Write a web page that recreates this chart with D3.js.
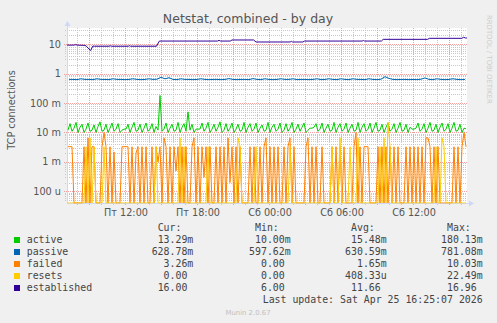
<!DOCTYPE html>
<html>
<head>
<meta charset="utf-8">
<script src="https://cdn.jsdelivr.net/npm/d3@7"></script>
<style>
html, body { margin: 0; padding: 0; background: #f0f0f0; }
svg { display: block; }
text { font-family: "DejaVu Sans", sans-serif; }
.mono { font-family: "DejaVu Sans Mono", monospace; white-space: pre; }
</style>
</head>
<body>
<div id="chart"></div>
<script>
// time range of the munin "day" graph: 400 samples of 300 s
const startTime = Date.UTC(2026, 3, 24, 7, 10);
const endTime = startTime + 120000 * 1000;
const dayNames = ["Вс", "Пн", "Вт", "Ср", "Чт", "Пт", "Сб"];

const yDomain = [4.07e-5, 34.9];
const yTickValues = [1e-4, 1e-3, 1e-2, 1e-1, 1, 10];
const yTickLabels = ["100 u", "1 m", "10 m", "100 m", "1", "10"];

// active, failed, resets: one value per 10 min, in milli-connections
const activeStepMin = 10;
const activeM = [
  12,20,11,14,22,10,15,19,10,13,  21,11,12,18,10,16,23,11,12,19,
  10,14,21,11,13,20,10,12,13,13,  19,10,15,22,11,12,19,10,14,21,
  11,13,20,10,16,12,180,11,13,21, 10,14,19,11,12,22,10,15,20,11,
  50,12,19,10,13,13,13,21,11,14,  22,10,13,19,11,15,23,10,12,20,
  11,14,21,10,13,19,11,12,22,10,  15,20,11,13,21,10,14,18,11,12,
  22,10,15,19,11,13,21,10,12,20,  11,14,22,10,13,19,11,15,21,10,
  12,14,14,15,20,11,13,21,10,14,  19,11,12,22,10,15,20,11,13,21,
  10,14,19,11,12,22,10,15,20,11,  13,21,10,14,22,11,12,19,10,15,
  21,11,13,20,10,14,22,11,12,19,  10,15,13,13,14,21,11,13,20,10,
  14,22,11,12,19,10,15,21,11,13,  20,10,14,22,11,12,19,10,14,13.3
];
const failedM = [
  3.3,3.3,3.3,0,0,0,0,0,3.3,0,     6.6,0,3.3,3.3,0,0,0,3.3,10,3.3,
  0,3.3,0,2.2,0,0,0,3.3,3.3,3.3,   3.3,0,3.3,0,2,3.3,0,3.3,0,3.3,
  0,0,3.3,0,3.3,1,3.3,0,6.6,3.3,   0,3.3,0,3.3,0.5,3.3,0,3.3,0,3.3,
  0,0,3.3,6.6,0,3.3,0,3.3,0.3,3.3, 0,3.3,0,0,3.3,0,3.3,0,3.3,0,
  6.6,0.2,3.3,0,3.3,0,3.3,0,0,0,   0,3.3,0,3.3,0,0,3.3,0,3.3,6.6,
  0,3.3,0,3.3,0,3.3,0,0,3.3,0,     3.3,6.6,0,3.3,0,0,0,0,0,3.3,
  6.6,0,3.3,0,3.3,0,0,3.3,0,0,     0,0,3.3,0,3.3,0,3.3,0,3.3,0,
  0,0,0,3.3,10,0,3.3,0,3.3,3.3,    3.3,0,0,0,0,3.3,0,3.3,0,3.3,
  0,3.3,0,3.3,0,3.3,0,0,0,3.3,     0,3.3,0,3.3,0,3.3,0,3.3,0,6.6,
  6.6,3.3,0,3.3,0,3.3,0,0,0,0,     0,0,0,3.3,0,3.3,0,3.3,10,3.26
];
const resetsM = [
  0,0,0,0,0,0,0,0,0,3.3,   0,6.6,0,3.3,0,0,0,0,3.3,0,
  0,0,0,0,0,0,0,0,0,0,     0,0,0,0,0,0,0,0,0,0,
  0,0,0,0,3.3,0,0,0,0,0,   0,0,0,0,0,0,6.6,0,3.3,0,
  0,0,0,0,0,0,0,0,0,0,     3.3,0,0,0,0,0,0,0,0,0,
  0,0,0,0,0,6.6,3.3,0,0,0, 0,0,0,0,3.3,0,0,0,0,0,
  0,0,0,0,0,0,0,0,0,0,     0,3.3,0,0,0,0,0,0,0,0,
  0,0,0,0,0,0,0,0,0,0,     0,0,3.3,0,0,0,6.6,0,0,0,
  0,3.3,0,0,0,6.6,0,0,0,0, 0,0,0,0,0,0,3.3,0,6.6,0,
  22.5,3.3,0,0,0,0,0,0,0,0, 0,0,0,0,0,0,0,0,0,0,
  0,0,0,0,3.3,0,0,6.6,3.3,0, 0,0,0,0,0,0,0,0,0,0
];

// passive: one value per 20 min
const passiveStepMin = 20;
const passive = [
  0.63,0.63,0.62,0.66,0.63,0.63,0.62,0.66,0.63,0.63,
  0.62,0.66,0.63,0.63,0.62,0.63,0.66,0.63,0.62,0.63,
  0.66,0.63,0.64,0.75,0.66,0.72,0.63,0.62,0.66,0.63,
  0.63,0.62,0.63,0.66,0.63,0.62,0.63,0.63,0.62,0.63,
  0.67,0.63,0.62,0.63,0.63,0.62,0.67,0.63,0.62,0.66,
  0.63,0.62,0.63,0.66,0.63,0.63,0.66,0.62,0.63,0.63,
  0.62,0.63,0.66,0.62,0.63,0.66,0.63,0.62,0.66,0.63,
  0.62,0.66,0.63,0.63,0.62,0.66,0.63,0.62,0.64,0.78,
  0.68,0.63,0.62,0.63,0.63,0.62,0.63,0.62,0.64,0.71,
  0.63,0.62,0.66,0.63,0.62,0.63,0.66,0.63,0.62,0.63
];

// established: hours after start, value
const estHours = [0,0.6,0.7,0.85,1.5,1.6,1.97,2.15,2.3, 3.5,3.6,3.7, 5.1,5.2,5.3, 7.45,7.7,
  12.55,12.67,12.8, 13.6,13.75, 15.55,15.75, 18.6,18.7,18.8, 19.65,19.8, 24.6,24.7,24.8,
  26.2,26.35, 30.05,30.2, 32.9,33.05,33.2,33.33];
const estValues = [9.2,9.2,9.6,9.2,9.0,8.5,6.0,8.5,8.4, 8.4,8.7,8.4, 8.4,8.7,8.4, 8.4,12.6,
  12.6,13.3,12.6, 12.6,13.7, 13.7,11.7, 11.7,12.3,11.7, 11.7,12.6, 12.6,13.2,12.6,
  12.6,14.4, 14.4,15.6, 15.6,16.96,16.0,16.0];

const legendNames = ["active", "passive", "failed", "resets", "established"];
const legendCur = ["13.29m", "628.78m", "3.26m", "0.00 ", "16.00 "];
const legendMin = ["10.00m", "597.62m", "0.00 ", "0.00 ", "6.00 "];
const legendAvg = ["15.48m", "630.59m", "1.65m", "408.33u", "11.66 "];
const legendMax = ["180.13m", "781.08m", "10.03m", "22.49m", "16.96 "];
const legendHeads = ["Cur:  ", "Min:  ", "Avg:  ", "Max:  "];

const colors = ["#00cc00", "#0066b3", "#ff8000", "#ffcc00", "#330099"];

const W = 497, H = 323;
const plot = {left: 67, right: 467, top: 28, bottom: 203};

const svg = d3.select("#chart").append("svg")
    .attr("width", W).attr("height", H);

svg.append("rect").attr("width", W).attr("height", H).attr("fill", "#f0f0f0");
svg.append("rect")
    .attr("x", plot.left).attr("y", plot.top)
    .attr("width", plot.right - plot.left).attr("height", plot.bottom - plot.top)
    .attr("fill", "#ffffff");

const x = d3.scaleUtc().domain([startTime, endTime]).range([plot.left, plot.right]);
const y = d3.scaleLog().domain(yDomain).range([plot.bottom, plot.top]);

// grid
const grid = svg.append("g").attr("shape-rendering", "crispEdges");
d3.utcHour.every(1).range(new Date(startTime), new Date(endTime)).forEach(function(t) {
    if (t.getUTCHours() % 3 === 0) return;
    const px = Math.round(x(t)) + 0.5;
    grid.append("line").attr("x1", px).attr("x2", px)
        .attr("y1", plot.top).attr("y2", plot.bottom + 2)
        .attr("stroke", "#c8c8c8").attr("stroke-dasharray", "1,1");
});
let minorY = [];
for (let d = -5; d <= 1; d++) {
    for (let k = 2; k <= 9; k++) {
        const v = k * Math.pow(10, d);
        if (v > yDomain[0] && v < yDomain[1]) minorY.push(v);
    }
}
minorY.forEach(function(v) {
    const py = Math.round(y(v)) + 0.5;
    grid.append("line").attr("x1", plot.left - 2).attr("x2", plot.right)
        .attr("y1", py).attr("y2", py)
        .attr("stroke", "#c8c8c8").attr("stroke-dasharray", "1,1");
});
d3.utcHour.every(3).range(new Date(startTime), new Date(endTime)).forEach(function(t) {
    const px = Math.round(x(t)) + 0.5;
    grid.append("line").attr("x1", px).attr("x2", px)
        .attr("y1", plot.top).attr("y2", plot.bottom + 3)
        .attr("stroke", "#f2a0a0").attr("stroke-dasharray", "1,1");
});
yTickValues.forEach(function(v) {
    const py = Math.round(y(v)) + 0.5;
    grid.append("line").attr("x1", plot.left - 3).attr("x2", plot.right)
        .attr("y1", py).attr("y2", py)
        .attr("stroke", "#f2a0a0").attr("stroke-dasharray", "1,1");
});

// axes
const axisCol = "#cfd6f8";
svg.append("line").attr("x1", plot.left + 0.5).attr("x2", plot.left + 0.5)
    .attr("y1", plot.bottom).attr("y2", plot.top - 3).attr("stroke", axisCol);
svg.append("line").attr("x1", plot.left).attr("x2", plot.right + 3)
    .attr("y1", plot.bottom + 0.5).attr("y2", plot.bottom + 0.5).attr("stroke", axisCol);
svg.append("path")
    .attr("d", `M${plot.left + 0.5},${plot.top - 7} L${plot.left - 2.5},${plot.top - 2} L${plot.left + 3.5},${plot.top - 2} Z`)
    .attr("fill", axisCol);
svg.append("path")
    .attr("d", `M${plot.right + 7},${plot.bottom + 0.5} L${plot.right + 2},${plot.bottom - 2.5} L${plot.right + 2},${plot.bottom + 3.5} Z`)
    .attr("fill", axisCol);

// tick labels
yTickValues.forEach(function(v, i) {
    svg.append("text").attr("x", 61).attr("y", y(v) + 3.5)
        .attr("text-anchor", "end").attr("font-size", 9.7).attr("fill", "#555")
        .text(yTickLabels[i]);
});
d3.utcHour.every(6).range(new Date(startTime), new Date(endTime)).forEach(function(t) {
    const lbl = dayNames[t.getUTCDay()] + " " + d3.utcFormat("%H:%M")(t);
    svg.append("text").attr("x", x(t) + 1).attr("y", 216)
        .attr("text-anchor", "middle").attr("font-size", 9.7).attr("fill", "#555")
        .text(lbl);
});

// titles
svg.append("text").attr("x", 248).attr("y", 23).attr("text-anchor", "middle")
    .attr("font-size", 12.5).attr("fill", "#555").text("Netstat, combined - by day");
svg.append("text").attr("transform", "translate(15, 110) rotate(-90)")
    .attr("text-anchor", "middle").attr("font-size", 9.7).attr("fill", "#555")
    .text("TCP connections");
svg.append("text").attr("transform", "translate(486.5, 15) rotate(90)")
    .attr("font-size", 6.9).attr("fill", "#cccccc").text("RRDTOOL / TOBI OETIKER");

// data lines
const clip = svg.append("clipPath").attr("id", "plotclip");
clip.append("rect").attr("x", plot.left).attr("y", plot.top - 1)
    .attr("width", plot.right - plot.left).attr("height", plot.bottom - plot.top + 1.5);
const lines = svg.append("g").attr("clip-path", "url(#plotclip)");

function yv(v) {
    return y(Math.max(v, yDomain[0]));
}
function stepped(values, stepMin, scale) {
    return values.map(function(v, i) {
        return {t: startTime + (i + 0.5) * stepMin * 60000, v: v * scale};
    });
}
const line = d3.line()
    .x(function(d) { return x(d.t); })
    .y(function(d) { return yv(d.v); });

const seriesData = [
    stepped(activeM, activeStepMin, 1e-3),
    stepped(passive, passiveStepMin, 1),
    stepped(failedM, activeStepMin, 1e-3),
    stepped(resetsM, activeStepMin, 1e-3),
    estHours.map(function(h, i) { return {t: startTime + h * 3600000, v: estValues[i]}; })
];
seriesData.forEach(function(data, i) {
    lines.append("path")
        .datum(data)
        .attr("fill", "none")
        .attr("stroke", colors[i])
        .attr("stroke-width", 1)
        .attr("d", line);
});

// legend
const legend = svg.append("g").attr("class", "mono").attr("font-size", 9.9).attr("fill", "#444");
const colRight = [193.3, 290.7, 386.7, 482.7];
const cols = [legendCur, legendMin, legendAvg, legendMax];
legendHeads.forEach(function(h, c) {
    legend.append("text").attr("class", "mono").attr("x", colRight[c]).attr("y", 231)
        .attr("text-anchor", "end").attr("xml:space", "preserve").text(h);
});
legendNames.forEach(function(name, r) {
    const by = 243.3 + r * 12;
    legend.append("rect").attr("x", 14).attr("y", by - 6.3).attr("width", 6).attr("height", 6)
        .attr("fill", colors[r]);
    legend.append("text").attr("class", "mono").attr("x", 26.7).attr("y", by).text(name);
    cols.forEach(function(col, c) {
        legend.append("text").attr("class", "mono").attr("x", colRight[c]).attr("y", by)
            .attr("text-anchor", "end").attr("xml:space", "preserve").text(col[r]);
    });
});
legend.append("text").attr("class", "mono").attr("x", 482.7).attr("y", 303.3)
    .attr("text-anchor", "end").text("Last update: Sat Apr 25 16:25:07 2026");
svg.append("text").attr("x", 248).attr("y", 315).attr("text-anchor", "middle")
    .attr("font-size", 6.9).attr("fill", "#c0c0c0").text("Munin 2.0.67");
</script>
</body>
</html>
